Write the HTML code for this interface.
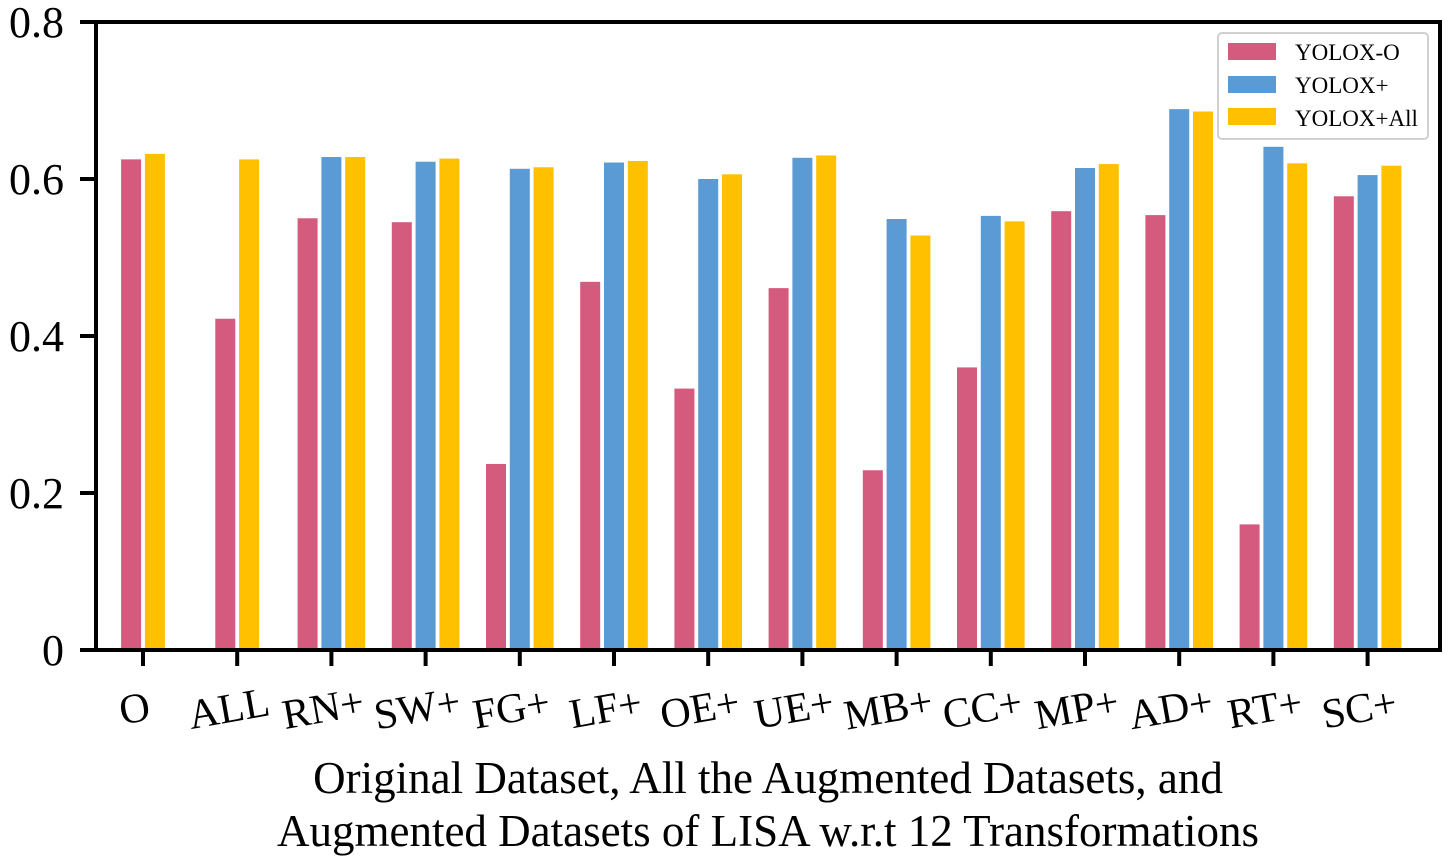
<!DOCTYPE html>
<html><head><meta charset="utf-8"><style>
body{margin:0;background:#fff}
svg text{font-family:"Liberation Serif",serif;fill:#000}
</style></head><body>
<svg id="chart" width="1451" height="860" xmlns="http://www.w3.org/2000/svg" font-family="Liberation Serif, serif">
<g id="bars"></g>
<g id="axes"></g>
<g>
<rect x="1218" y="33" width="210" height="106" rx="4" fill="#fff" stroke="#d0d0d0" stroke-width="2"/>
<rect x="1228" y="43" width="48" height="17" fill="#d45b7d"/>
<text x="1295" y="60" font-size="23">YOLOX-O</text>
<rect x="1228" y="76" width="48" height="17" fill="#5b9bd5"/>
<text x="1295" y="93" font-size="23">YOLOX+</text>
<rect x="1228" y="108" width="48" height="17" fill="#ffc000"/>
<text x="1295" y="126" font-size="23">YOLOX+All</text>
</g>
<text x="768" y="793" font-size="45" text-anchor="middle">Original Dataset, All the Augmented Datasets, and</text>
<text x="768" y="846" font-size="45" text-anchor="middle">Augmented Datasets of LISA w.r.t 12 Transformations</text>
</svg>
<script>
const categories=["O","ALL","RN+","SW+","FG+","LF+","OE+","UE+","MB+","CC+","MP+","AD+","RT+","SC+"];
const yoloxO=[0.625,0.422,0.550,0.545,0.237,0.469,0.333,0.461,0.229,0.360,0.559,0.554,0.160,0.578];
const yoloxPlus=[null,null,0.628,0.622,0.613,0.621,0.600,0.627,0.549,0.553,0.614,0.689,0.641,0.605];
const yoloxAll=[0.632,0.625,0.628,0.626,0.615,0.623,0.606,0.630,0.528,0.546,0.619,0.686,0.620,0.617];
const yTicks=[0,0.2,0.4,0.6,0.8];
const yTickLabels=["0","0.2","0.4","0.6","0.8"];
const NS="http://www.w3.org/2000/svg";
const L=96,R=1440,T=22,B=650;
function y(v){return B-(v/0.8)*(B-T);}
function x(i){return 143+i*94.2;}
const bars=document.getElementById('bars'),axes=document.getElementById('axes');
function mk(tag,attrs,parent){const e=document.createElementNS(NS,tag);for(const k in attrs)e.setAttribute(k,attrs[k]);parent.appendChild(e);return e;}
const series=[[yoloxO,"#d45b7d","yolox-o"],[yoloxPlus,"#5b9bd5","yolox-plus"],[yoloxAll,"#ffc000","yolox-all"]];
categories.forEach((c,i)=>{
  const present=series.filter(s=>s[0][i]!=null);
  const n=present.length;
  present.forEach((s,j)=>{
    const cx=x(i)+(j-(n-1)/2)*23.8;
    const v=s[0][i];
    const r=mk('rect',{x:cx-10,y:y(v),width:20,height:B-y(v),fill:s[1]},bars);
    
    
  });
  const t=mk('line',{x1:x(i),x2:x(i),y1:B,y2:B+16,stroke:'#000','stroke-width':4},axes);
  
  
  const lx=x(i)-6,ly=B+72;
  const tx=mk('text',{x:lx,y:ly,'font-size':42,'text-anchor':'middle',transform:`rotate(-10 ${lx} ${ly})`},axes);
  tx.textContent=c;
  
  
});
yTicks.forEach((v,k)=>{
  const t=mk('line',{x1:L-16,x2:L,y1:y(v),y2:y(v),stroke:'#000','stroke-width':4},axes);
  
  
  const tx=mk('text',{x:L-32,y:y(v)+15,'font-size':44,'text-anchor':'end'},axes);
  tx.textContent=yTickLabels[k];
  
  
});
const fr=mk('rect',{x:L,y:T,width:R-L,height:B-T,fill:'none',stroke:'#000','stroke-width':4},axes);


</script>
</body></html>
